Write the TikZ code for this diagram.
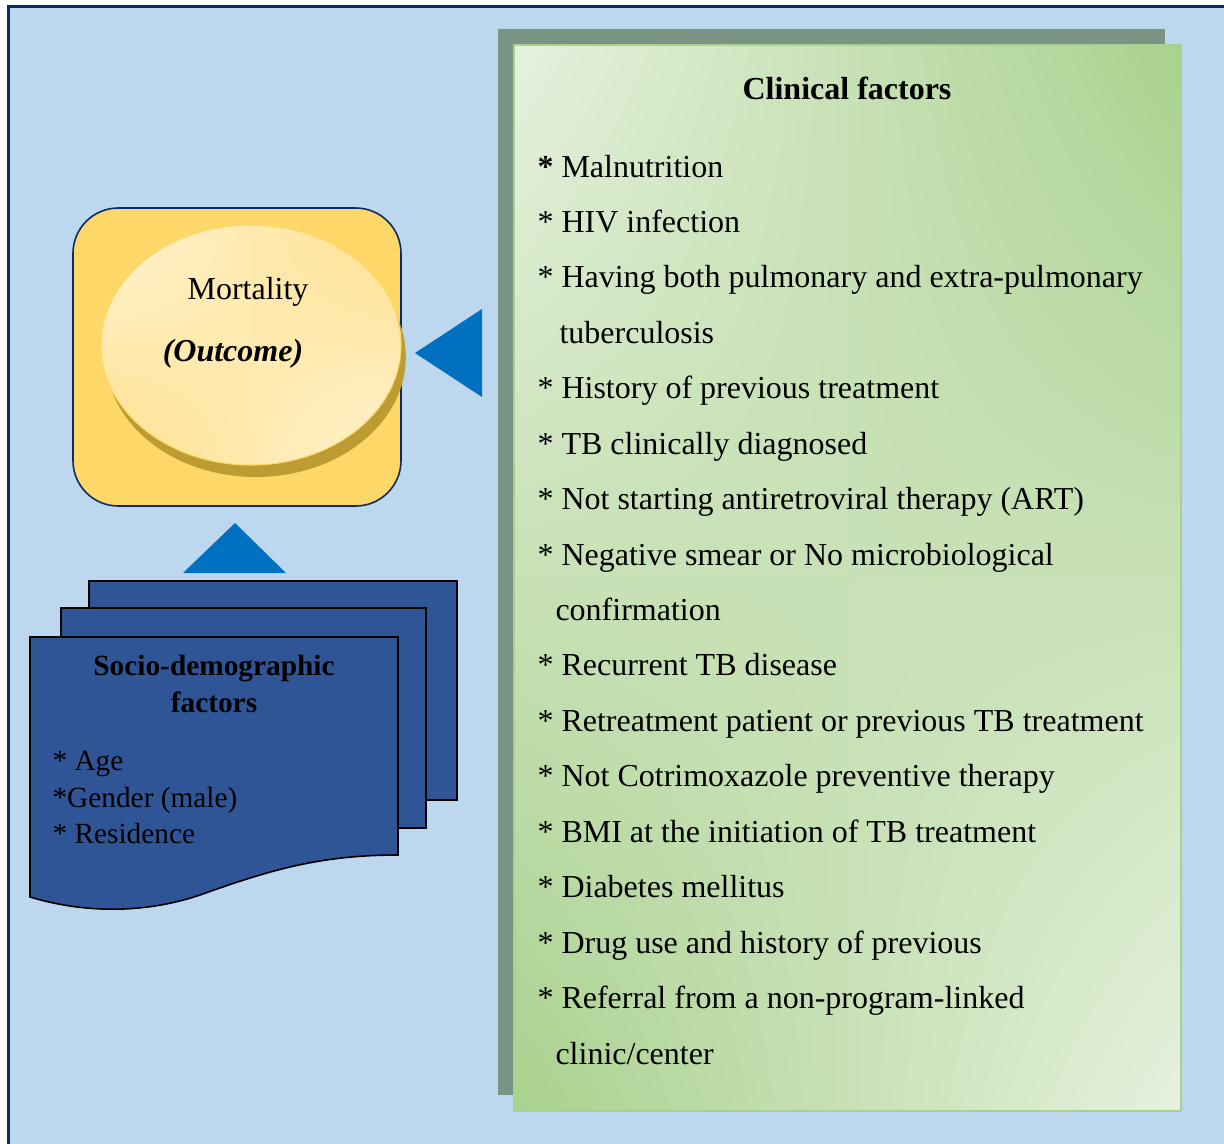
\documentclass[tikz,border=0pt]{standalone}
\usepackage{fontspec}
\setmainfont{Liberation Serif}
\definecolor{bgblue}{RGB}{189,215,238}
\definecolor{framenavy}{RGB}{14,42,102}
\definecolor{outgold}{RGB}{253,216,104}
\definecolor{rimgold}{RGB}{190,156,52}
\definecolor{creamlight}{RGB}{255,244,212}
\definecolor{creamdark}{RGB}{255,223,138}
\definecolor{arrowblue}{RGB}{0,112,192}
\definecolor{docblue}{RGB}{47,85,151}
\definecolor{greenlight}{RGB}{230,241,222}
\definecolor{greendark}{RGB}{169,209,142}
\definecolor{greenshadow}{RGB}{122,148,132}
\usetikzlibrary{positioning,shapes.geometric,shadows,shadings}

\begin{document}
\begin{tikzpicture}[x=0.375pt, y=-0.375pt,
      every node/.style={inner sep=0pt, font=\fontsize{12pt}{14pt}\selectfont},
      panel/.style={rectangle, draw=greendark, line width=0.8pt,
                    minimum width=250pt, minimum height=399.75pt,
                    upper left=greenlight, lower right=greenlight,
                    upper right=greendark, lower left=greendark,
                    general shadow={fill=greenshadow, shadow xshift=-6pt, shadow yshift=6pt}},
      disk/.style={ellipse, draw=outgold, line width=0.4pt,
                   minimum width=112.5pt, minimum height=90pt,
                   upper left=creamlight, lower right=creamlight,
                   upper right=creamdark, lower left=creamdark,
                   general shadow={fill=rimgold, shadow xshift=1.8pt, shadow yshift=-4.5pt}},
      docpage/.style={fill=docblue, draw=black, line width=0.6pt},
      tri/.style={fill=arrowblue},
      factor/.style={anchor=base west},
      sdtext/.style={font=\fontsize{11pt}{13.9pt}\selectfont}
    ]
      \useasboundingbox (0,0) rectangle (1224,1144);
      \draw[framenavy, fill=bgblue, line width=0.9pt] (8.5,6.5) rectangle (1240,1160);

      \node[panel] (clinical) at (847.5,578) {};
      \node[font=\fontsize{12pt}{14pt}\selectfont\bfseries, anchor=base] (cftitle) at (847,99) {Clinical factors};
      \foreach \txt [count=\i from 0] in {
          {\textbf{*} Malnutrition},
          {* HIV infection},
          {* Having both pulmonary and extra-pulmonary},
          {\hspace{8.25pt}tuberculosis},
          {* History of previous treatment},
          {* TB clinically diagnosed},
          {* Not starting antiretroviral therapy (ART)},
          {* Negative smear or No microbiological},
          {\hspace{6.75pt}confirmation},
          {* Recurrent TB disease},
          {* Retreatment patient or previous TB treatment},
          {* Not Cotrimoxazole preventive therapy},
          {* BMI at the initiation of TB treatment},
          {* Diabetes mellitus},
          {* Drug use and history of previous},
          {* Referral from a non-program-linked},
          {\hspace{6.75pt}clinic/center}}
        \node[factor] (cf\i) at (537,{177+55.44*\i}) {\txt};

      \node[draw=framenavy, fill=outgold, line width=0.6pt, rounded corners=17pt,
            minimum width=123pt, minimum height=111.75pt] (outbox) at (237,357) {};
      \node[disk] (outcome) at (251,345) {};
      \node[anchor=base] (mort) at (248,299) {Mortality};
      \node[anchor=base] (outc) at (233,361) {\textbf{\textit{(Outcome)}}};

      \fill[tri] (415,353) -- (482,309) -- (482,397) -- cycle;
      \fill[tri] (235,523) -- (183,573) -- (286,573) -- cycle;

      \draw[docpage] (89,581) rectangle (457,800);
      \draw[docpage] (61,608) rectangle (426,828);
      \draw[docpage] (30,637) -- (398,637) -- (398,855)
        .. controls (320,855) and (270,870) .. (200,895)
        .. controls (150,912) and (90,915) .. (30,897) -- cycle;
      \node[sdtext, font=\fontsize{11pt}{13.9pt}\selectfont\bfseries, anchor=base] (sdhead) at (214,675) {Socio-demographic};
      \node[sdtext, font=\fontsize{11pt}{13.9pt}\selectfont\bfseries, anchor=base] (sdhead2) at (214,712) {factors};
      \node[sdtext, factor] (sd1) at (52,770) {* Age};
      \node[sdtext, factor] (sd2) at (52,807) {*Gender (male)};
      \node[sdtext, factor] (sd3) at (52,843) {* Residence};
    \end{tikzpicture}
\end{document}
